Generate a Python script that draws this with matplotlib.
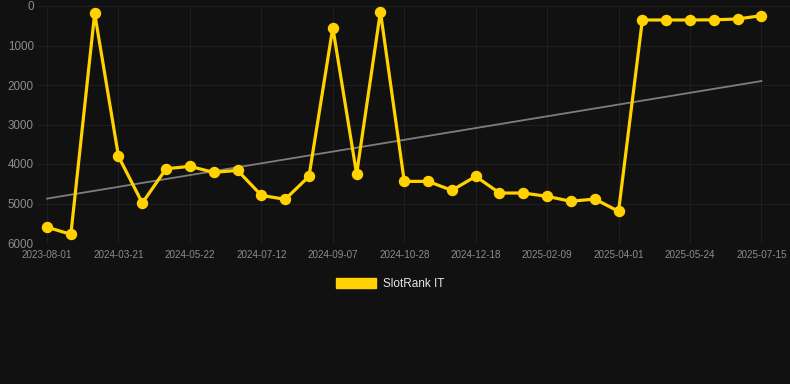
import matplotlib
matplotlib.use("Agg")
import matplotlib.pyplot as plt
from matplotlib.patches import Patch
import numpy as np

plt.rcParams['font.family'] = ['Liberation Sans', 'DejaVu Sans']

dates = ["2023-08-01", "", "", "2024-03-21", "", "", "2024-05-22", "", "", "2024-07-12",
         "", "", "2024-09-07", "", "", "2024-10-28", "", "", "2024-12-18", "", "",
         "2025-02-09", "", "", "2025-04-01", "", "", "2025-05-24", "", "", "2025-07-15"]
ranks = [5600, 5780, 185, 3808, 4988, 4120, 4060, 4212, 4162, 4794,
         4895, 4313, 548, 4254, 143, 4440, 4440, 4667, 4313, 4735,
         4735, 4819, 4945, 4886, 5198, 354, 354, 354, 350, 329, 244]
series_name = "SlotRank IT"
yticks = [0, 1000, 2000, 3000, 4000, 5000, 6000]

bg = "#111111"
gold = "#FFD200"

fig = plt.figure(figsize=(7.9, 3.84), dpi=100, facecolor=bg)
ax = fig.add_axes([38/790, 1-243/384, (790-38)/790, (243-6)/384])
ax.set_facecolor(bg)

x = np.arange(len(ranks))
coef = np.polyfit(x, ranks, 1)
ax.plot(x, np.polyval(coef, x), color="#8a8a8a", lw=1.3, alpha=0.9, zorder=2)
ax.plot(x, ranks, color=gold, lw=2.3, marker="o", markersize=7.2,
        solid_joinstyle="miter", zorder=3, clip_on=False)

ax.set_ylim(6000, 0)
ax.set_xlim(-0.38, 31.2)
ax.set_yticks(yticks)
ax.set_yticklabels([str(v) for v in yticks])
tick_idx = [i for i, d in enumerate(dates) if d]
ax.set_xticks(tick_idx)
ax.set_xticklabels([dates[i] for i in tick_idx])

ax.grid(True, color="#1f1f1f", lw=0.8)
ax.set_axisbelow(True)
for s in ax.spines.values():
    s.set_visible(False)
ax.tick_params(axis="y", colors="#8c8c8c", labelsize=8.4, length=0, pad=3)
ax.tick_params(axis="x", colors="#8c8c8c", labelsize=7.1, length=0, pad=5)

fig.legend(handles=[Patch(facecolor=gold, edgecolor=gold)], labels=[series_name],
           loc="center", bbox_to_anchor=(390/790, 1-284/384), frameon=False,
           handlelength=3.4, handleheight=0.9, handletextpad=0.6,
           fontsize=8.5, labelcolor="#e6e6e6")

fig.savefig("out.png", dpi=100, facecolor=bg)
